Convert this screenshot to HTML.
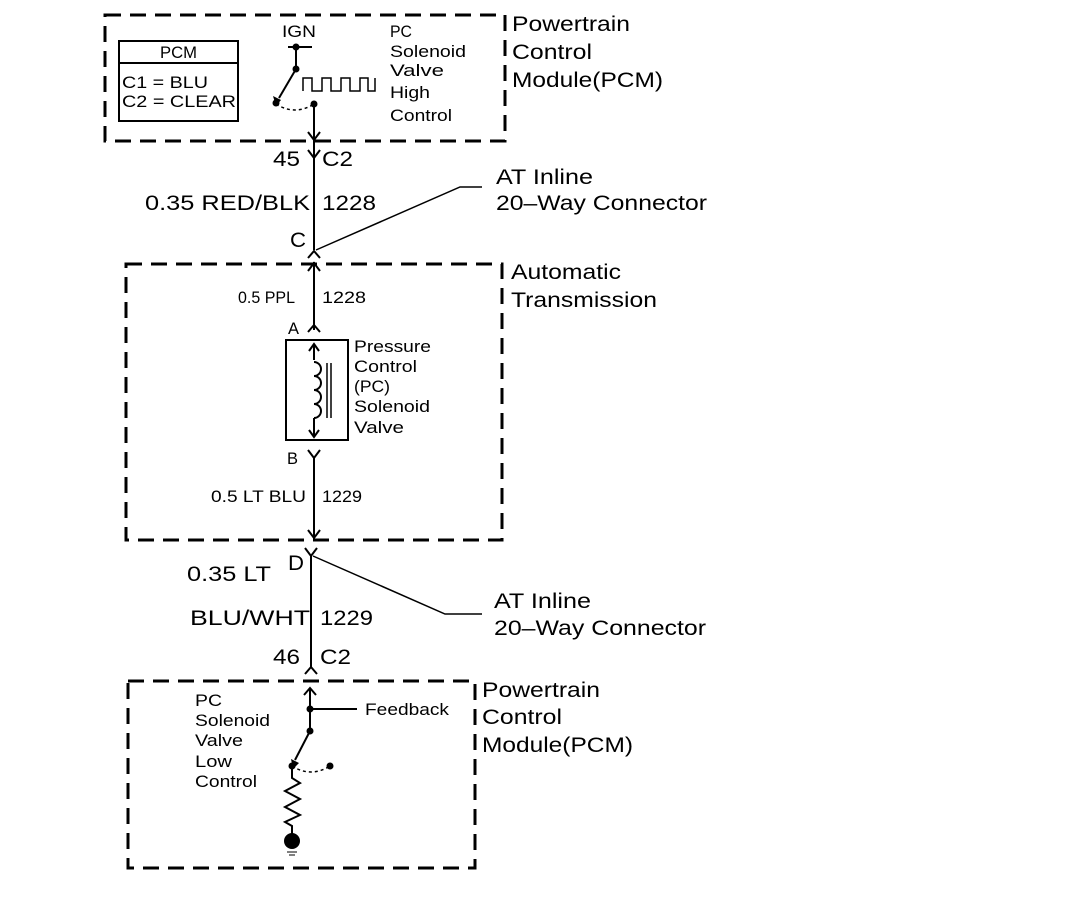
<!DOCTYPE html>
<html><head><style>
body{margin:0;background:#fff}
svg{display:block}
text{font-family:"Liberation Sans",sans-serif;fill:#000}
</style></head><body>
<svg width="1072" height="904" viewBox="0 0 1072 904" xmlns="http://www.w3.org/2000/svg">
<g fill="none" stroke="#000">
<rect x="105" y="15" width="400" height="126" stroke-width="3" stroke-dasharray="16,9"/>
<rect x="126" y="264" width="376" height="276" stroke-width="3" stroke-dasharray="16,9"/>
<rect x="128" y="681" width="347" height="187" stroke-width="3" stroke-dasharray="16,9"/>
<rect x="119" y="41" width="119" height="80" stroke-width="2"/>
<line x1="119" y1="63" x2="238" y2="63" stroke-width="2"/>
<line x1="288" y1="47" x2="312" y2="47" stroke-width="2"/>
<line x1="296" y1="47" x2="296" y2="69" stroke-width="2"/>
<line x1="296" y1="69" x2="279" y2="98" stroke-width="2"/>
<path d="M276 104 Q295 116 314 104" stroke-width="1.5" stroke-dasharray="3,3"/>
<path d="M303 91 V78 H312 V91 H322 V78 H331 V91 H341 V78 H350 V91 H360 V78 H368 V91 H375 V78" stroke-width="1.5"/>
<line x1="314" y1="104" x2="314" y2="250" stroke-width="2"/>
<path d="M308 132 L314 140 L320 132" stroke-width="2"/>
<path d="M308 150 L314 158 L320 150" stroke-width="2"/>
<path d="M308 258 L314 251 L320 258" stroke-width="2"/>
<polyline points="316,250 460,187 482,187" stroke-width="1.5"/>
<line x1="314" y1="262" x2="314" y2="330" stroke-width="2"/>
<path d="M308 271 L314 263 L320 271" stroke-width="2"/>
<path d="M308 332 L314 325 L320 332" stroke-width="2"/>
<rect x="286" y="340" width="62" height="100" stroke-width="2"/>
<line x1="314" y1="345" x2="314" y2="360" stroke-width="2"/>
<path d="M309 351 L314 344 L319 351" stroke-width="2"/>
<path d="M314 362 a7 7 0 0 1 0 14 a7 7 0 0 1 0 14 a7 7 0 0 1 0 14 a7 7 0 0 1 0 14" stroke-width="2"/>
<line x1="314" y1="418" x2="314" y2="436" stroke-width="2"/>
<path d="M309 430 L314 437 L319 430" stroke-width="2"/>
<line x1="327" y1="363" x2="327" y2="418" stroke-width="1.5"/>
<line x1="331" y1="363" x2="331" y2="418" stroke-width="1.5"/>
<path d="M308 450 L314 458 L320 450" stroke-width="2"/>
<line x1="314" y1="458" x2="314" y2="540" stroke-width="2"/>
<path d="M308 530 L314 538 L320 530" stroke-width="2"/>
<path d="M305 548 L311 556 L317 548" stroke-width="2"/>
<line x1="311" y1="556" x2="311" y2="667" stroke-width="2"/>
<path d="M305 674 L311 667 L317 674" stroke-width="2"/>
<polyline points="313,556 445,614 482,614" stroke-width="1.5"/>
<line x1="310" y1="688" x2="310" y2="731" stroke-width="2"/>
<path d="M304 695 L310 688 L316 695" stroke-width="2"/>
<line x1="310" y1="709" x2="357" y2="709" stroke-width="2"/>
<line x1="310" y1="731" x2="295" y2="760" stroke-width="2"/>
<path d="M292 766 Q311 778 330 766" stroke-width="1.5" stroke-dasharray="3,3"/>
<polyline points="292,766 292,778 300,783 285,791 300,799 285,807 300,815 285,822 292,826 292,836" stroke-width="2"/>
<line x1="287" y1="852" x2="297" y2="852" stroke-width="1"/>
<line x1="289" y1="855" x2="295" y2="855" stroke-width="1"/>
</g>
<g fill="#000">
<circle cx="296" cy="47" r="3.5"/><circle cx="296" cy="69" r="3.5"/>
<circle cx="276" cy="103" r="3.5"/><circle cx="314" cy="104" r="3.5"/>
<path d="M273 96 L281 100 L276 106 Z"/>
<circle cx="310" cy="709" r="3.5"/><circle cx="310" cy="731" r="3.5"/>
<circle cx="292" cy="766" r="3.5"/><circle cx="330" cy="766" r="3.5"/>
<path d="M291 759 L299 763 L293 769 Z"/>
<circle cx="292" cy="841" r="8"/>
</g>
<g font-size="17" lengthAdjust="spacingAndGlyphs">
<text x="160" y="58" textLength="37" lengthAdjust="spacingAndGlyphs">PCM</text>
<text x="122" y="88" textLength="86" lengthAdjust="spacingAndGlyphs">C1 = BLU</text>
<text x="122" y="107" textLength="114" lengthAdjust="spacingAndGlyphs">C2 = CLEAR</text>
<text x="282" y="37" textLength="34" lengthAdjust="spacingAndGlyphs">IGN</text>
<text x="390" y="37" textLength="22" lengthAdjust="spacingAndGlyphs">PC</text>
<text x="390" y="57" textLength="76" lengthAdjust="spacingAndGlyphs">Solenoid</text>
<text x="390" y="76" textLength="54" lengthAdjust="spacingAndGlyphs">Valve</text>
<text x="390" y="98" textLength="40" lengthAdjust="spacingAndGlyphs">High</text>
<text x="390" y="121" textLength="62" lengthAdjust="spacingAndGlyphs">Control</text>
<text x="238" y="303" textLength="57" lengthAdjust="spacingAndGlyphs">0.5 PPL</text>
<text x="322" y="303" textLength="44" lengthAdjust="spacingAndGlyphs">1228</text>
<text x="288" y="334" textLength="11" lengthAdjust="spacingAndGlyphs">A</text>
<text x="354" y="352" textLength="77" lengthAdjust="spacingAndGlyphs">Pressure</text>
<text x="354" y="372" textLength="63" lengthAdjust="spacingAndGlyphs">Control</text>
<text x="354" y="392" textLength="36" lengthAdjust="spacingAndGlyphs">(PC)</text>
<text x="354" y="412" textLength="76" lengthAdjust="spacingAndGlyphs">Solenoid</text>
<text x="354" y="433" textLength="50" lengthAdjust="spacingAndGlyphs">Valve</text>
<text x="287" y="464" textLength="11" lengthAdjust="spacingAndGlyphs">B</text>
<text x="211" y="502" textLength="95" lengthAdjust="spacingAndGlyphs">0.5 LT BLU</text>
<text x="322" y="502" textLength="40" lengthAdjust="spacingAndGlyphs">1229</text>
<text x="195" y="706" textLength="27" lengthAdjust="spacingAndGlyphs">PC</text>
<text x="195" y="726" textLength="75" lengthAdjust="spacingAndGlyphs">Solenoid</text>
<text x="195" y="746" textLength="48" lengthAdjust="spacingAndGlyphs">Valve</text>
<text x="195" y="767" textLength="37" lengthAdjust="spacingAndGlyphs">Low</text>
<text x="195" y="787" textLength="62" lengthAdjust="spacingAndGlyphs">Control</text>
<text x="365" y="715" textLength="84" lengthAdjust="spacingAndGlyphs">Feedback</text>
</g>
<g font-size="21">
<text x="273" y="166" textLength="27" lengthAdjust="spacingAndGlyphs">45</text>
<text x="322" y="166" textLength="31" lengthAdjust="spacingAndGlyphs">C2</text>
<text x="145" y="210" textLength="165" lengthAdjust="spacingAndGlyphs">0.35 RED/BLK</text>
<text x="322" y="210" textLength="54" lengthAdjust="spacingAndGlyphs">1228</text>
<text x="290" y="247" textLength="16" lengthAdjust="spacingAndGlyphs">C</text>
<text x="496" y="184" textLength="97" lengthAdjust="spacingAndGlyphs">AT Inline</text>
<text x="496" y="210" textLength="211" lengthAdjust="spacingAndGlyphs">20–Way Connector</text>
<text x="288" y="570" textLength="16" lengthAdjust="spacingAndGlyphs">D</text>
<text x="187" y="581" textLength="84" lengthAdjust="spacingAndGlyphs">0.35 LT</text>
<text x="190" y="625" textLength="120" lengthAdjust="spacingAndGlyphs">BLU/WHT</text>
<text x="320" y="625" textLength="53" lengthAdjust="spacingAndGlyphs">1229</text>
<text x="494" y="608" textLength="97" lengthAdjust="spacingAndGlyphs">AT Inline</text>
<text x="494" y="635" textLength="212" lengthAdjust="spacingAndGlyphs">20–Way Connector</text>
<text x="273" y="664" textLength="27" lengthAdjust="spacingAndGlyphs">46</text>
<text x="320" y="664" textLength="31" lengthAdjust="spacingAndGlyphs">C2</text>
<text x="512" y="31" textLength="118" lengthAdjust="spacingAndGlyphs">Powertrain</text>
<text x="512" y="59" textLength="80" lengthAdjust="spacingAndGlyphs">Control</text>
<text x="512" y="87" textLength="151" lengthAdjust="spacingAndGlyphs">Module(PCM)</text>
<text x="511" y="279" textLength="110" lengthAdjust="spacingAndGlyphs">Automatic</text>
<text x="511" y="307" textLength="146" lengthAdjust="spacingAndGlyphs">Transmission</text>
<text x="482" y="697" textLength="118" lengthAdjust="spacingAndGlyphs">Powertrain</text>
<text x="482" y="724" textLength="80" lengthAdjust="spacingAndGlyphs">Control</text>
<text x="482" y="752" textLength="151" lengthAdjust="spacingAndGlyphs">Module(PCM)</text>
</g>
</svg>
</body></html>
